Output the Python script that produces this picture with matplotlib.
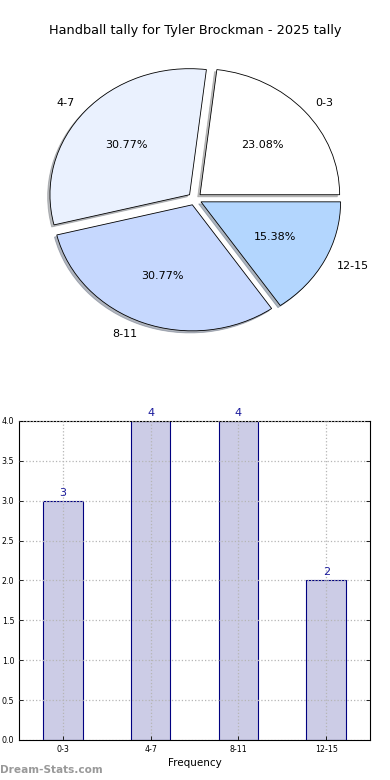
import matplotlib
matplotlib.use("Agg")
import matplotlib.pyplot as plt

# data
categories = ["0-3", "4-7", "8-11", "12-15"]
counts = [3, 4, 4, 2]
pie_colors = ["#ffffff", "#eaf1fe", "#c6d8fe", "#b3d6fe"]
title = "Handball tally for Tyler Brockman - 2025 tally"

fig = plt.figure(figsize=(3.9, 7.8), dpi=100)

# pie chart
ax1 = fig.add_axes([0.052, 0.5430, 0.895, 0.404])
ax1.pie(counts, labels=categories, colors=pie_colors, explode=[0.05] * len(counts),
        autopct="%.2f%%", shadow={"ox": -0.012, "oy": -0.012, "shade": 0.5},
        startangle=0, counterclock=True,
        wedgeprops={"edgecolor": "black", "linewidth": 0.6},
        textprops={"fontsize": 8})
ax1.set_aspect("auto")
ax1.set_xlim(-1.25, 1.25)
ax1.set_ylim(-1.25, 1.25)
fig.text(0.5, 0.961, title, ha="center", va="center", fontsize=9.3)

# bar chart
ax2 = fig.add_axes([0.049, 0.0513, 0.9, 0.409])
x = range(len(categories))
ax2.bar(x, counts, width=0.45, color="#ccccE6", edgecolor="#000080", linewidth=0.8, zorder=2)
for i, c in zip(x, counts):
    ax2.text(i, c + 0.04, str(c), ha="center", va="bottom", fontsize=8, color="#1a1a9c")
ax2.set_xlim(-0.5, len(categories) - 0.5)
ax2.set_ylim(0, 4)
ax2.set_yticks([0, 0.5, 1.0, 1.5, 2.0, 2.5, 3.0, 3.5, 4.0])
ax2.set_xticks(list(x))
ax2.set_xticklabels(categories)
ax2.tick_params(labelsize=5.7, direction="in", length=3, width=0.6, top=False, right=True)
ax2.grid(True, linestyle=":", color="#b5b5b5", linewidth=0.9, zorder=3)
ax2.set_axisbelow(False)
ax2.set_xlabel("Frequency", fontsize=7.5, labelpad=3)
for s in ax2.spines.values():
    s.set_linewidth(0.8)

fig.text(0.0, 0.013, "Dream-Stats.com", ha="left", va="center", fontsize=7.6,
         fontweight="bold", color="#999999")

fig.savefig("out.png", dpi=100)
